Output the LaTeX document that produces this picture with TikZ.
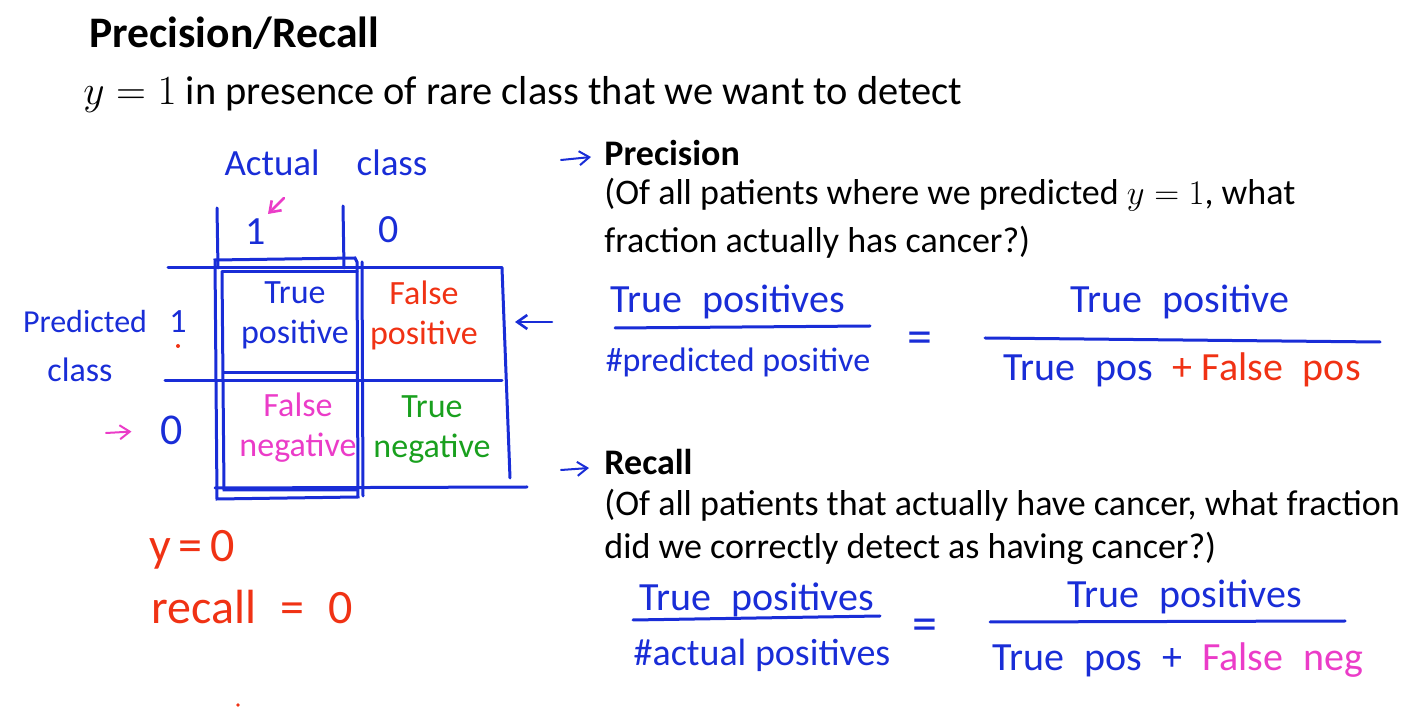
\documentclass[tikz,border=0pt]{standalone}
\usepackage{fontspec}
\setmainfont{Carlito}
\usepackage{amsmath}
\usetikzlibrary{arrows.meta,calc,positioning}
\definecolor{penblue}{RGB}{25,45,215}
\definecolor{penred}{RGB}{240,50,20}
\definecolor{penpink}{RGB}{235,60,200}
\definecolor{pengreen}{RGB}{25,160,30}
\begin{document}
\begin{tikzpicture}[x=0.5pt,y=-0.5pt,line width=1.4pt,
    typed/.style={anchor=west,inner sep=0pt,font=\fontsize{18}{23}\selectfont},
    heading/.style={typed,font=\fontsize{18}{23}\selectfont\bfseries},
    pen/.style={inner sep=0pt,text=penblue,font=\fontsize{17}{20}\selectfont},
    fracpen/.style={pen,font=\fontsize{20}{22}\selectfont},
    penline/.style={draw=penblue,line width=1.5pt,line cap=round},
    penarrow/.style={draw=#1,line width=1.3pt,line cap=round,-{Straight Barb[length=5pt,width=7pt]}},
  ]
  \useasboundingbox (0,0) rectangle (1426,716);

  % titles
  \node[typed,font=\fontsize{21.8}{24}\selectfont\bfseries] (title) at (88,33) {Precision/Recall};
  \node[typed,font=\fontsize{20.2}{24}\selectfont] (rare) at (82,95) {$y=1$ in presence of rare class that we want to detect};

  % confusion table
  \node[pen,font=\fontsize{18.5}{20}\selectfont] (actual) at (326,163) {Actual\quad class};
  \node[pen,font=\fontsize{20}{22}\selectfont] (act1) at (256,232) {1};
  \node[pen,font=\fontsize{20}{22}\selectfont] (act0) at (389,230) {0};
  \draw[penarrow=penpink] (284,198) -- (268,214);
  \draw[penline] (217,208) -- (218,268);
  \draw[penline] (343,206) -- (344,268);
  \draw[penline] (168,268) -- (502,268);
  \draw[penline] (165,381) -- (502,381);
  \draw[penline] (215,488) -- (527,487);
  \draw[penline] (502,268) -- (510,478);
  \draw[penline] (362,262) -- (363,496);
  \draw[penline] (215,260) -- (355,258) -- (357,262) -- (358,497) -- (217,499) -- cycle;
  \draw[penline] (222,272) -- (357,272);
  \draw[penline] (222,272) -- (224,490) -- (357,490);
  \draw[penline] (224,373) -- (357,373);

  \node[pen,align=center] (tp) at (295,315) {True\\positive};
  \node[pen,align=center,text=penred] (fp) at (424,315) {False\\positive};
  \node[pen,align=center,text=penpink] (fn) at (298,428) {False\\negative};
  \node[pen,align=center,text=pengreen] (tn) at (432,430) {True\\negative};

  \node[pen,font=\fontsize{16}{18}\selectfont] (predicted) at (85,322) {Predicted};
  \node[pen] (pclass) at (80,370) {class};
  \node[pen] (pred1) at (178,322) {1};
  \fill[penred] (178,346) circle (2);
  \node[pen,font=\fontsize{22}{24}\selectfont] (pred0) at (172,430) {0};
  \coordinate (negarr) at (106,433);
  \draw[penarrow=penpink,line width=1pt,shorten >=14pt] (negarr) -- (pred0.west);
  \coordinate (fparr) at (552,322);
  \coordinate (rowone) at (515,322);
  \draw[penarrow=penblue] (fparr) -- (rowone);

  % y = 0 note
  \node[pen,text=penred,font=\fontsize{24}{26}\selectfont] (yzero) at (192,550) {y\,=\,0};
  \node[pen,text=penred,font=\fontsize{24}{26}\selectfont] (reczero) at (252,607) {recall\enspace=\enspace0};
  \fill[penred] (238,705) circle (1.8);

  % precision
  \node[heading] (prec) at (603,153) {Precision};
  \coordinate (precarr) at (561,160);
  \draw[penarrow=penblue,line width=1pt] (precarr) -- ($(prec.west)+(-12,4)$);
  \node[typed] (precq) at (603,195) {(Of all patients where we predicted $y=1$, what};
  \node[typed] (precq2) at (603,242) {fraction actually has cancer?)};

  \node[fracpen] (pnum) at (728,302) {True\enspace positives};
  \node[pen] (pden) at (738,362) {\#predicted positive};
  \draw[penline] (615,328) -- (870,326);
  \node[fracpen,font=\fontsize{25}{26}\selectfont] (peq) at (920,343) {=};
  \node[fracpen] (pnum2) at (1180,302) {True\enspace positive};
  \node[fracpen] (pden2) at (1182,370) {True\enspace pos\enspace \textcolor{penred}{+ False\enspace pos}};
  \draw[penline] (985,338) -- (1380,342);

  % recall
  \node[heading] (rec) at (603,462) {Recall};
  \coordinate (recarr) at (561,470);
  \draw[penarrow=penblue,line width=1pt] (recarr) -- ($(rec.west)+(-14,6)$);
  \node[typed] (recq) at (603,505) {(Of all patients that actually have cancer, what fraction};
  \node[typed] (recq2) at (603,548) {did we correctly detect as having cancer?)};

  \node[fracpen] (rnum) at (757,600) {True\enspace positives};
  \node[fracpen,font=\fontsize{19}{21}\selectfont] (rden) at (762,655) {\#actual positives};
  \draw[penline] (633,620) -- (880,616);
  \node[fracpen,font=\fontsize{25}{26}\selectfont] (req) at (925,630) {=};
  \node[fracpen] (rnum2) at (1185,597) {True\enspace positives};
  \node[fracpen] (rden2) at (1178,660) {True\enspace pos\enspace +\enspace \textcolor{penpink}{False\enspace neg}};
  \draw[penline] (990,622) -- (1345,621);
\end{tikzpicture}
\end{document}
